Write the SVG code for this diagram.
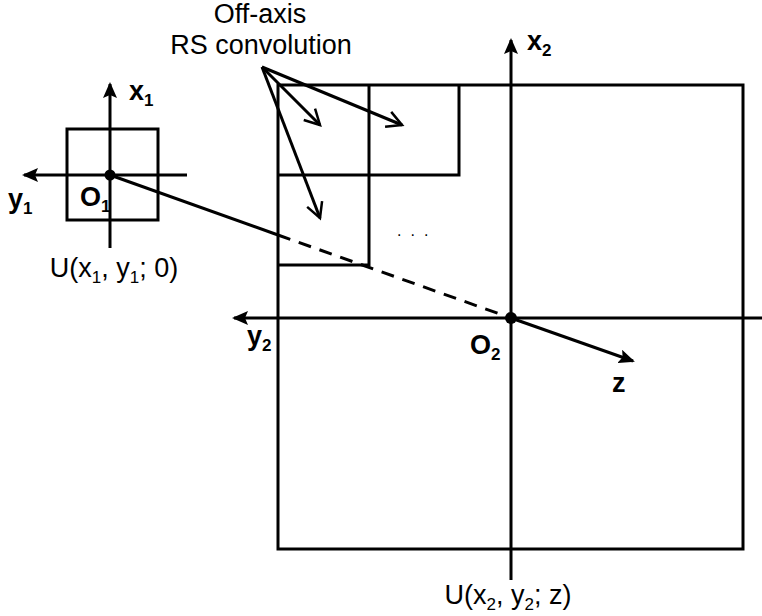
<svg xmlns="http://www.w3.org/2000/svg" width="762" height="616" viewBox="0 0 762 616">
<style>
.ln{stroke:#000;stroke-width:3;fill:none}
.bl{font-family:"Liberation Sans",Arial,sans-serif;font-weight:bold;font-size:27px;fill:#000}
.rg{font-family:"Liberation Sans",Arial,sans-serif;font-size:27px;fill:#000}
.sb{font-size:17px}
</style>
<defs>
<marker id="tri" markerUnits="userSpaceOnUse" markerWidth="16" markerHeight="14" refX="14" refY="7" orient="auto">
<path d="M0,0 L16,7 L0,14 L3,7 Z" fill="#000"/>
</marker>
<marker id="vee" markerUnits="userSpaceOnUse" markerWidth="20" markerHeight="20" refX="17" refY="10" orient="auto">
<path d="M2,2 L17,10 L2,18" fill="none" stroke="#000" stroke-width="2.5"/>
</marker>
</defs>
<g id="plane2">
<rect x="278" y="85" width="465" height="464" class="ln"/>
<path class="ln" d="M278,175 H459 V85 M369,85 V265 H278"/>
<text class="rg" x="397" y="236" style="font-size:16px;letter-spacing:9px">...</text>
</g>
<g id="plane1">
<rect x="67" y="129" width="91" height="91" class="ln"/>
</g>
<g id="axes">
<line class="ln" x1="110" y1="248" x2="110" y2="84" marker-end="url(#tri)"/>
<line class="ln" x1="187" y1="175" x2="24" y2="175" marker-end="url(#tri)"/>
<line class="ln" x1="511" y1="580" x2="511" y2="40" marker-end="url(#tri)"/>
<line class="ln" x1="762" y1="318" x2="234" y2="318" marker-end="url(#tri)"/>
</g>
<g id="connectors">
<line class="ln" x1="110" y1="175" x2="278" y2="235"/>
<line class="ln" x1="278" y1="235" x2="511" y2="318" stroke-dasharray="13,9"/>
<line class="ln" x1="511" y1="318" x2="633" y2="361" marker-end="url(#tri)"/>
<line class="ln" x1="262" y1="67" x2="320" y2="125" marker-end="url(#vee)"/>
<line class="ln" x1="262" y1="67" x2="402" y2="125" marker-end="url(#vee)"/>
<line class="ln" x1="262" y1="67" x2="320" y2="218" marker-end="url(#vee)"/>
</g>
<g id="points">
<circle cx="110" cy="175" r="5.5" fill="#000"/>
<circle cx="511" cy="318" r="6" fill="#000"/>
</g>
<g id="labels">
<text class="rg" x="260" y="23" text-anchor="middle">Off-axis</text>
<text class="rg" x="261" y="54" text-anchor="middle">RS convolution</text>
<text class="bl" x="129" y="100">x<tspan class="sb" dy="6">1</tspan></text>
<text class="bl" x="8" y="208">y<tspan class="sb" dy="6">1</tspan></text>
<text class="bl" x="80" y="206">O<tspan class="sb" dy="6">1</tspan></text>
<text class="rg" x="114" y="277" text-anchor="middle">U(x<tspan class="sb" dy="6">1</tspan><tspan dy="-6">, y</tspan><tspan class="sb" dy="6">1</tspan><tspan dy="-6">; 0)</tspan></text>
<text class="bl" x="527" y="50">x<tspan class="sb" dy="6">2</tspan></text>
<text class="bl" x="247" y="345">y<tspan class="sb" dy="6">2</tspan></text>
<text class="bl" x="470" y="354">O<tspan class="sb" dy="6">2</tspan></text>
<text class="bl" x="612" y="392">z</text>
<text class="rg" x="508" y="604" text-anchor="middle">U(x<tspan class="sb" dy="6">2</tspan><tspan dy="-6">, y</tspan><tspan class="sb" dy="6">2</tspan><tspan dy="-6">; z)</tspan></text>
</g>
</svg>
